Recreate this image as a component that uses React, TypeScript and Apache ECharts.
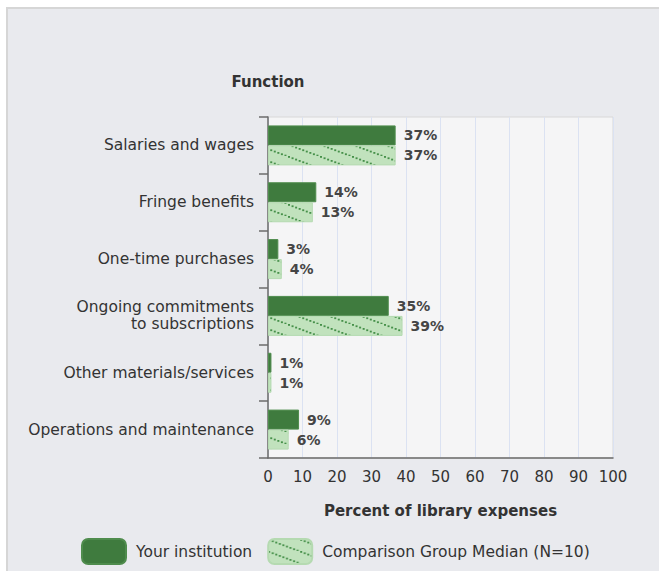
import React, { useEffect, useRef } from "react";
import * as echarts from "echarts";

const categories = [
  "Salaries and wages",
  "Fringe benefits",
  "One-time purchases",
  "Ongoing commitments\nto subscriptions",
  "Other materials/services",
  "Operations and maintenance",
];
const yourInstitution = [37, 14, 3, 35, 1, 9];
const comparisonMedian = [37, 13, 4, 39, 1, 6];
const seriesNames = ["Your institution", "Comparison Group Median (N=10)"];
const axisTitleY = "Function";
const axisTitleX = "Percent of library expenses";
const xMin = 0;
const xMax = 100;
const xInterval = 10;

const FONT = "'DejaVu Sans', Verdana, sans-serif";

function makeHatch() {
  const w = 32;
  const h = 12;
  const c = document.createElement("canvas");
  c.width = w;
  c.height = h;
  const ctx = c.getContext("2d")!;
  ctx.fillStyle = "#c1e2bd";
  ctx.fillRect(0, 0, w, h);
  ctx.fillStyle = "#46904a";
  const n = 9;
  for (let i = 0; i < n; i++) {
    const x = (i * w) / n;
    const y = (x * h) / w;
    ctx.fillRect(x, y, 2, 1.8);
  }
  return { image: c, repeat: "repeat", imageWidth: w, imageHeight: h } as any;
}

export default function App() {
  const ref = useRef<HTMLDivElement>(null);
  useEffect(() => {
    if (!ref.current) return;
    const chart = echarts.init(ref.current, undefined, { renderer: "svg" });
    const hatch = makeHatch();
    chart.setOption({
      animation: false,
      backgroundColor: "transparent",
      textStyle: { fontFamily: FONT },
      grid: {
        left: 268,
        top: 117,
        right: 46,
        bottom: 113,
        show: true,
        backgroundColor: "#f5f5f6",
        borderColor: "#d8d8d8",
        borderWidth: 1,
      },
      legend: {
        left: 76,
        top: 533,
        itemWidth: 44,
        itemHeight: 25,
        itemGap: 15,
        icon: "roundRect",
        textStyle: { fontFamily: FONT, fontSize: 15.5, color: "#333", padding: [0, 0, 0, 5] },
        data: seriesNames,
      },
      xAxis: {
        type: "value",
        min: xMin,
        max: xMax,
        interval: xInterval,
        name: axisTitleX,
        nameLocation: "middle",
        nameGap: 45,
        nameTextStyle: { fontFamily: FONT, fontSize: 15, fontWeight: "bold", color: "#333" },
        axisLine: { show: true, lineStyle: { color: "#6b6b6b", width: 1.5 } },
        axisTick: { show: false },
        axisLabel: { fontFamily: FONT, fontSize: 15, color: "#333", margin: 11 },
        splitLine: { show: true, lineStyle: { color: "#dbe2f2", width: 1 } },
      },
      yAxis: {
        type: "category",
        inverse: true,
        data: categories,
        name: axisTitleY,
        nameLocation: "start",
        nameGap: 28,
        nameTextStyle: { fontFamily: FONT, fontSize: 15, fontWeight: "bold", color: "#333", align: "center" },
        axisLine: { show: true, lineStyle: { color: "#6b6b6b", width: 1.5 } },
        axisTick: { show: true, length: 9, lineStyle: { color: "#6b6b6b", width: 1.5 } },
        axisLabel: { fontFamily: FONT, fontSize: 15.5, color: "#333", margin: 14, lineHeight: 17, align: "right" },
        splitLine: { show: false },
      },
      series: [
        {
          name: seriesNames[0],
          type: "bar",
          data: yourInstitution,
          barWidth: 20,
          barGap: "0%",
          itemStyle: { color: "#3f7b3e", borderColor: "#4f8c4d", borderWidth: 1 },
          label: {
            show: true,
            position: "right",
            distance: 8,
            formatter: "{c}%",
            fontFamily: FONT,
            fontSize: 14,
            fontWeight: "bold",
            color: "#454545",
          },
        },
        {
          name: seriesNames[1],
          type: "bar",
          data: comparisonMedian,
          barWidth: 20,
          barGap: "0%",
          itemStyle: { color: hatch, borderColor: "#b5dab1", borderWidth: 1 },
          label: {
            show: true,
            position: "right",
            distance: 8,
            formatter: "{c}%",
            fontFamily: FONT,
            fontSize: 14,
            fontWeight: "bold",
            color: "#454545",
          },
        },
      ],
    });
    return () => chart.dispose();
  }, []);

  return (
    <div style={{ position: "absolute", left: 0, top: 0, width: 659, height: 571, background: "#fff", overflow: "hidden" }}>
      <div
        style={{
          position: "absolute",
          left: 6,
          top: 7,
          width: 700,
          height: 600,
          background: "#e9eaee",
          borderTop: "2px solid #d6d6d6",
          borderLeft: "2px solid #d6d6d6",
          boxSizing: "border-box",
        }}
      />
      <div ref={ref} style={{ position: "absolute", left: 0, top: 0, width: 659, height: 571 }} />
    </div>
  );
}
